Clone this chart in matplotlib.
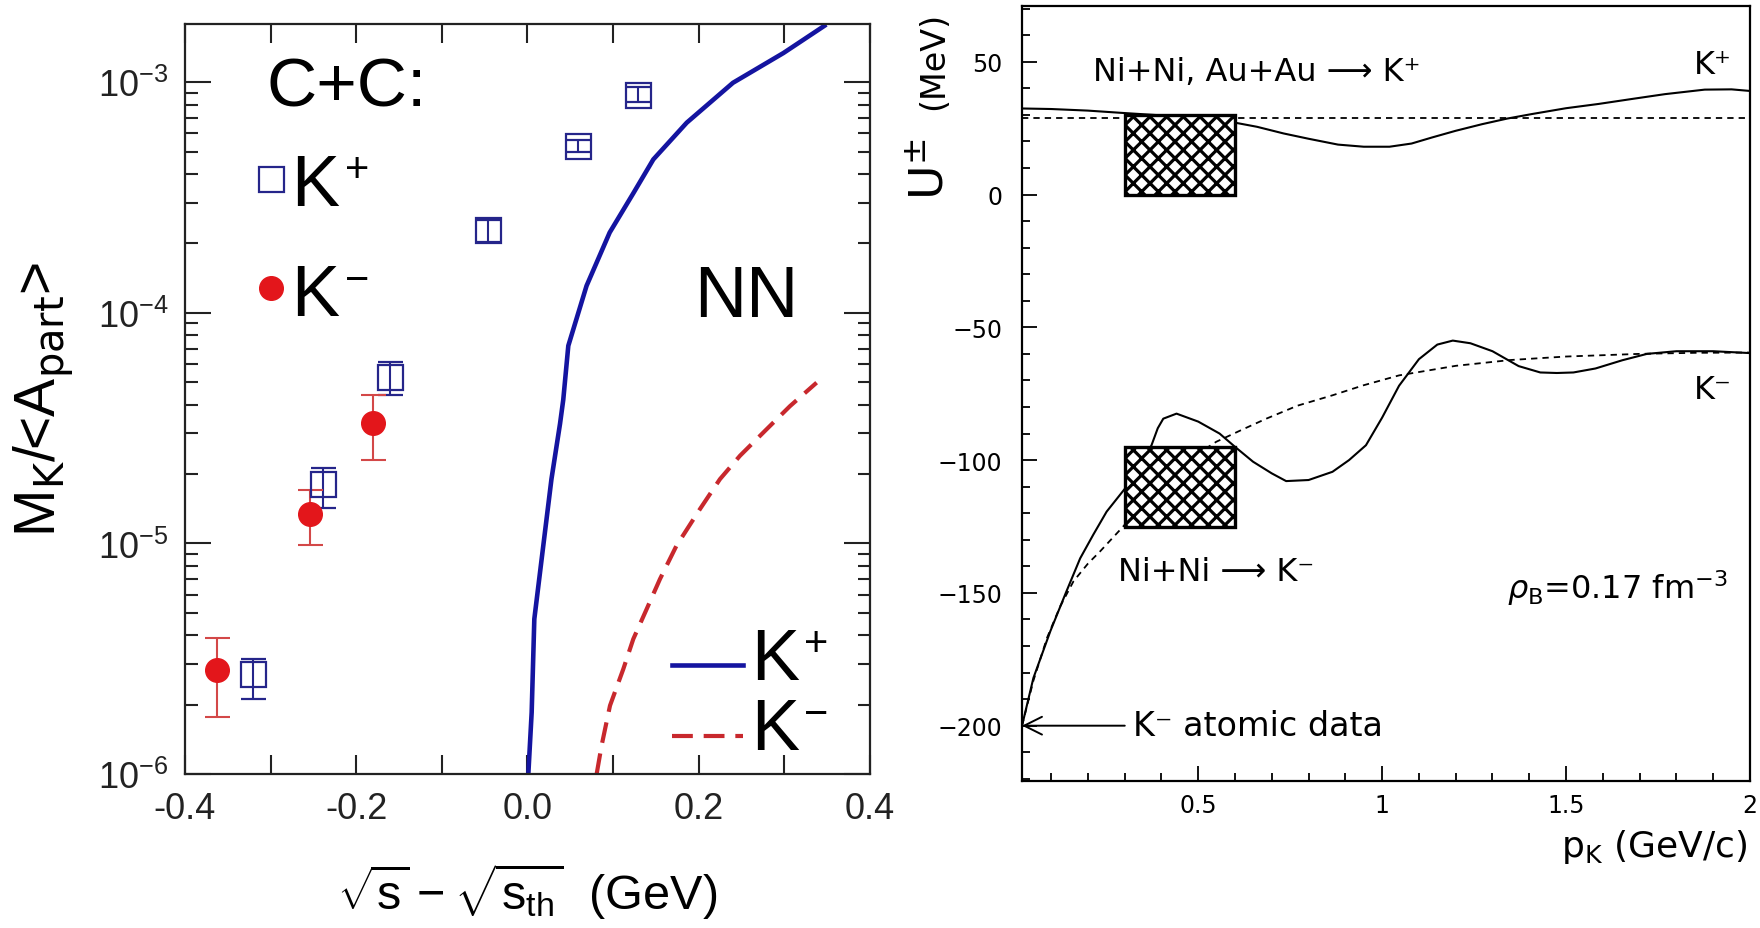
import numpy as np
import matplotlib
matplotlib.use('Agg')
import matplotlib.pyplot as plt
from matplotlib.patches import Rectangle
from matplotlib.ticker import FixedLocator, FixedFormatter, LogLocator, NullFormatter, MultipleLocator

plt.rcParams['mathtext.fontset'] = 'custom'
plt.rcParams['mathtext.rm'] = 'Liberation Sans Narrow'
plt.rcParams['mathtext.it'] = 'Liberation Sans Narrow'
plt.rcParams['mathtext.sf'] = 'Liberation Sans Narrow'
plt.rcParams['hatch.linewidth'] = 2.3

NARROW = ['Liberation Sans Narrow', 'Liberation Sans', 'DejaVu Sans']
WIDE = ['Liberation Sans', 'DejaVu Sans']

# ---- left panel: C+C kaon multiplicities ----
kp_x = [-0.320, -0.2385, -0.160, -0.046, 0.059, 0.129]
kp_y = [2.71e-6, 1.81e-5, 5.25e-5, 2.28e-4, 5.28e-4, 8.77e-4]
kp_lo = [2.11e-6, 1.42e-5, 4.40e-5, 2.02e-4, 5.0e-4, 8.2e-4]
kp_hi = [3.15e-6, 2.13e-5, 6.15e-5, 2.54e-4, 5.6e-4, 9.5e-4]

km_x = [-0.363, -0.254, -0.180]
km_y = [2.83e-6, 1.34e-5, 3.34e-5]
km_lo = [1.76e-6, 9.84e-6, 2.30e-5]
km_hi = [3.87e-6, 1.70e-5, 4.40e-5]

# NN reference curves
nn_kp_x = [0.001, 0.0049, 0.008, 0.0185, 0.028, 0.038, 0.0418, 0.0477, 0.069,
           0.096, 0.124, 0.147, 0.186, 0.240, 0.299, 0.349]
nn_kp_y = [1.0e-6, 1.85e-6, 4.7e-6, 9.8e-6, 1.9e-5, 3.3e-5, 4.2e-5, 7.2e-5, 1.31e-4,
           2.23e-4, 3.32e-4, 4.63e-4, 6.68e-4, 9.95e-4, 1.34e-3, 1.78e-3]
nn_km_x = [0.0808, 0.0866, 0.0964, 0.1119, 0.1236, 0.1392, 0.1547, 0.174, 0.2015,
           0.2248, 0.2482, 0.2794, 0.3066, 0.3377]
nn_km_y = [1.0e-6, 1.33e-6, 1.98e-6, 2.85e-6, 3.85e-6, 5.19e-6, 7.0e-6, 9.77e-6, 1.41e-5,
           1.90e-5, 2.40e-5, 3.13e-5, 3.94e-5, 4.98e-5]

xticks_left = [-0.4, -0.3, -0.2, -0.1, 0.0, 0.1, 0.2, 0.3, 0.4]
xlabels_left = ['-0.4', '', '-0.2', '', '0.0', '', '0.2', '', '0.4']
yticks_left = [1e-6, 1e-5, 1e-4, 1e-3]
ylabels_left = [r'$\mathregular{10^{-6}}$', r'$\mathregular{10^{-5}}$',
                r'$\mathregular{10^{-4}}$', r'$\mathregular{10^{-3}}$']

# ---- right panel: kaon potentials ----
kp_p = [0.021, 0.10, 0.20, 0.286, 0.40, 0.50, 0.583, 0.66, 0.732, 0.80, 0.88, 0.95,
        1.02, 1.08, 1.136, 1.20, 1.272, 1.34, 1.407, 1.50, 1.588, 1.68, 1.769, 1.877, 1.95, 2.0]
kp_U = [32.4, 32.2, 31.6, 30.8, 29.8, 28.8, 27.5, 25.5, 23.0, 21.0, 18.8, 18.0,
        18.0, 19.2, 21.5, 24.0, 26.5, 28.6, 30.3, 32.5, 34.1, 36.0, 37.8, 39.5, 39.6, 39.0]
kp_ref_p = [0.021, 2.0]
kp_ref_U = [29.0, 29.0]

km_p = [0.021, 0.052, 0.098, 0.14, 0.179, 0.215, 0.251, 0.305, 0.34, 0.373, 0.39, 0.405,
        0.441, 0.50, 0.558, 0.60, 0.649, 0.70, 0.739, 0.80, 0.865, 0.91, 0.956, 1.00,
        1.046, 1.10, 1.15, 1.192, 1.24, 1.30, 1.371, 1.43, 1.475, 1.52, 1.58, 1.653,
        1.72, 1.80, 1.90, 2.0]
km_U = [-200, -182, -164.4, -150, -137, -128, -119.4, -110, -103, -94.4, -88, -84.4,
        -82.5, -85.5, -90, -95, -100.6, -105, -107.9, -107.5, -104.4, -100, -94.4, -84,
        -72, -62, -56.5, -55, -56, -59, -64.6, -67, -67.2, -67, -65.5, -62.4,
        -60, -59, -59, -59.7]
km_ref_p = [0.021, 0.052, 0.089, 0.125, 0.161, 0.20, 0.233, 0.296, 0.35, 0.40, 0.45, 0.50,
            0.549, 0.62, 0.685, 0.77, 0.865, 0.95, 1.046, 1.2, 1.35, 1.5, 1.7, 1.85, 2.0]
km_ref_U = [-200, -183, -166.9, -155, -145.6, -139, -134.4, -125, -116, -109, -103, -97.5,
            -93.1, -88.5, -84.4, -79.5, -75.6, -71.8, -68.1, -64.5, -62.3, -61, -60, -59.6, -59.5]

box_p = [0.3, 0.6]
kp_box_U = [0.0, 30.0]
km_box_U = [-125.0, -95.0]
atomic_U = -200.0

fig = plt.figure(figsize=(17.6, 9.29), dpi=100)


def kaon(ax, x, y, sign, size=52, sup=30):
    # big K with a small raised charge sign next to it
    t = ax.text(x, y, 'K', transform=ax.transAxes, fontsize=size, family=NARROW,
                va='baseline')
    ax.annotate(sign, xy=(1.0, 1.0), xycoords=t, xytext=(4, 2), textcoords='offset points',
                fontsize=sup, family=NARROW, ha='left', va='top')


# ================= left =================
ax1 = fig.add_axes([0.1051, 0.1658, 0.3892, 0.8073])
blue = '#1414a0'
navy = '#25258a'
red = '#e3161b'
dred = '#c8282d'

ax1.plot(nn_kp_x, nn_kp_y, color=blue, lw=3.3, solid_capstyle='butt')
ax1.plot(nn_km_x, nn_km_y, color=dred, lw=3.0, dashes=(5, 2.6))

kp_err = [np.array(kp_y) - np.array(kp_lo), np.array(kp_hi) - np.array(kp_y)]
ax1.errorbar(kp_x, kp_y, yerr=kp_err, fmt='s', ms=18, mfc='none', mec=navy, mew=1.6,
             ecolor=navy, elinewidth=1.5, capsize=9, capthick=1.5)
km_err = [np.array(km_y) - np.array(km_lo), np.array(km_hi) - np.array(km_y)]
ax1.errorbar(km_x, km_y, yerr=km_err, fmt='o', ms=17, mfc=red, mec=red,
             ecolor='#d34848', elinewidth=1.5, capsize=9, capthick=1.5)

ax1.set_yscale('log')
ax1.set_xlim(-0.4, 0.4)
ax1.set_ylim(1e-6, 1.79e-3)
ax1.xaxis.set_major_locator(FixedLocator(xticks_left))
ax1.xaxis.set_major_formatter(FixedFormatter(xlabels_left))
ax1.yaxis.set_major_locator(FixedLocator(yticks_left))
ax1.yaxis.set_major_formatter(FixedFormatter(ylabels_left))
ax1.yaxis.set_minor_locator(LogLocator(base=10, subs=np.arange(2, 10)))
ax1.yaxis.set_minor_formatter(NullFormatter())
ax1.tick_params(axis='both', which='both', direction='in', top=True, right=True,
                width=1.5, colors='#222222')
ax1.tick_params(axis='x', which='major', length=14, pad=12, labelsize=26)
ax1.tick_params(axis='y', which='major', length=19, pad=12, labelsize=26)
ax1.tick_params(axis='y', which='minor', length=9)
for lab in ax1.get_xticklabels() + ax1.get_yticklabels():
    lab.set_family(NARROW)
for s in ax1.spines.values():
    s.set_linewidth(1.6)
    s.set_color('#222222')

ax1.text(0.119, 0.891, 'C+C:', transform=ax1.transAxes, fontsize=50,
         family=NARROW, va='baseline')
ax1.plot([0.125], [0.793], 's', ms=18, mfc='none', mec=navy, mew=1.6,
         transform=ax1.transAxes)
kaon(ax1, 0.155, 0.759, '+')
ax1.plot([0.125], [0.648], 'o', ms=17, color=red, transform=ax1.transAxes)
kaon(ax1, 0.155, 0.612, '\u2212')
ax1.text(0.744, 0.611, 'NN', transform=ax1.transAxes, fontsize=52,
         family=NARROW, va='baseline')
ax1.plot([0.711, 0.815], [0.145, 0.145], color=blue, lw=3.3, transform=ax1.transAxes)
kaon(ax1, 0.826, 0.127, '+')
ax1.plot([0.711, 0.815], [0.051, 0.051], color=dred, lw=3.0, dashes=(5, 2.6),
         transform=ax1.transAxes)
kaon(ax1, 0.826, 0.033, '\u2212')

ax1.text(-0.207, 0.5, r'M$_K$/<A$_{part}$>', transform=ax1.transAxes, family=WIDE,
         fontsize=41, rotation=90, ha='center', va='center')
ax1.text(0.5, -0.196, r'$\mathregular{\sqrt{s}-\sqrt{s_{th}}}$  (GeV)',
         transform=ax1.transAxes, fontsize=35, family=NARROW, ha='center', va='bottom')

# ================= right =================
ax2 = fig.add_axes([0.5807, 0.1586, 0.4136, 0.8339])
ax2.plot(kp_p, kp_U, color='black', lw=1.5)
ax2.plot(kp_ref_p, kp_ref_U, color='black', lw=1.3, dashes=(3.5, 2.8))
ax2.plot(km_p, km_U, color='black', lw=1.5)
ax2.plot(km_ref_p, km_ref_U, color='black', lw=1.3, dashes=(3.5, 2.8))

for lo, hi in (kp_box_U, km_box_U):
    ax2.add_patch(Rectangle((box_p[0], lo), box_p[1] - box_p[0], hi - lo,
                            facecolor='white', edgecolor='black', hatch='xx',
                            lw=2.4, zorder=3))

ax2.set_xlim(0.021, 2.0)
ax2.set_ylim(-220.7, 71)
ax2.xaxis.set_major_locator(MultipleLocator(0.5))
ax2.xaxis.set_minor_locator(MultipleLocator(0.1))
ax2.yaxis.set_major_locator(MultipleLocator(50))
ax2.yaxis.set_minor_locator(MultipleLocator(10))
ax2.xaxis.set_major_formatter(matplotlib.ticker.FormatStrFormatter('%g'))
ax2.tick_params(axis='both', which='both', direction='in', width=1.3)
ax2.tick_params(axis='both', which='major', length=11, labelsize=17)
ax2.tick_params(axis='both', which='minor', length=6)
ax2.tick_params(axis='y', which='major', pad=14)
ax2.tick_params(axis='x', which='major', pad=9)
for s in ax2.spines.values():
    s.set_linewidth(1.6)

ax2.text(0.66, 46.5, 'Ni+Ni, Au+Au ⟶ K⁺', fontsize=23, ha='center', va='center')
ax2.text(1.95, 49, 'K⁺', fontsize=23, ha='right', va='center')
ax2.text(1.95, -73.5, 'K⁻', fontsize=23, ha='right', va='center')
ax2.text(0.55, -142, 'Ni+Ni ⟶ K⁻', fontsize=23, ha='center', va='center')
ax2.text(1.94, -148, r'$\rho_\mathrm{B}$=0.17 fm$^{-3}$', fontsize=23, ha='right',
         va='center', math_fontfamily='dejavusans')
ax2.annotate('K⁻ atomic data', xy=(0.021, atomic_U), xytext=(0.323, atomic_U),
             fontsize=24, va='center', ha='left',
             arrowprops=dict(arrowstyle='->', lw=1.4, mutation_scale=32,
                             shrinkA=4, shrinkB=0))

ax2.text(-0.125, 0.79, r'U$^{\pm}$', transform=ax2.transAxes, fontsize=34, rotation=90,
         ha='center', va='center', math_fontfamily='dejavusans')
ax2.text(-0.122, 0.93, '(MeV)', transform=ax2.transAxes, fontsize=24, rotation=90,
         ha='center', va='center')
ax2.text(0.997, -0.084, r'p$_\mathrm{K}$ (GeV/c)', transform=ax2.transAxes, fontsize=26,
         ha='right', va='center', math_fontfamily='dejavusans')

fig.savefig('out.png', dpi=100)
